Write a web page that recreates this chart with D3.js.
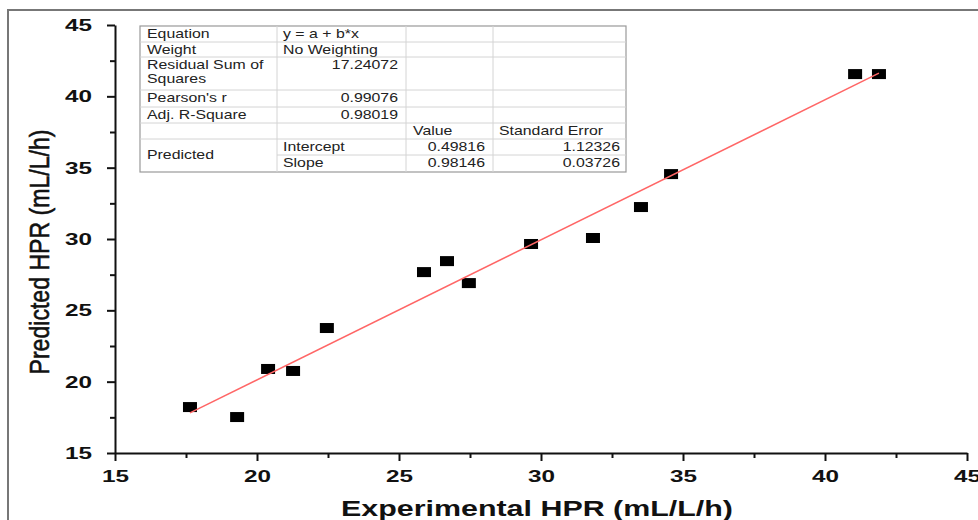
<!DOCTYPE html>
<html>
<head>
<meta charset="utf-8">
<script src="https://cdn.jsdelivr.net/npm/d3@7"></script>
<style>
  body { margin: 0; background: #fff; }
  svg { display: block; }
  .tick text { font-family: Arial, "Liberation Sans", sans-serif; font-weight: bold; font-size: 17px; fill: #111; }
  .axis path, .axis line { stroke: #111; stroke-width: 2px; }
  .tbl text { font-family: Arial, "Liberation Sans", sans-serif; font-size: 13px; fill: #222; }
</style>
</head>
<body>
<svg id="chart"></svg>
<script>
// measured data (experimental vs predicted HPR)
var experimental = [17.64, 19.30, 20.39, 21.27, 22.46, 25.88, 26.69, 27.46, 29.65, 31.83, 33.52, 34.58, 41.06, 41.90];
var predicted    = [18.22, 17.52, 20.89, 20.75, 23.76, 27.68, 28.45, 26.91, 29.65, 30.07, 32.24, 34.55, 41.56, 41.56];

var majorTicks = [15, 20, 25, 30, 35, 40, 45];
var minorTicks = [17.5, 22.5, 27.5, 32.5, 37.5, 42.5];

// linear fit results
var fitIntercept = 0.49816;
var fitSlope = 0.98146;

// fit report table (label, value) rows
var tableRows = [
  ["Equation", "y = a + b*x"],
  ["Weight", "No Weighting"],
  ["Residual Sum of|Squares", "17.24072"],
  ["Pearson's r", "0.99076"],
  ["Adj. R-Square", "0.98019"]
];
var paramHeader = ["Value", "Standard Error"];
var paramNames = ["Intercept", "Slope"];
var paramValues = ["0.49816", "0.98146"];
var paramErrors = ["1.12326", "0.03726"];

var screen = {width: 978, height: 520};
var svg = d3.select("#chart").attr("width", screen.width).attr("height", screen.height);

// outer frame
svg.append("rect")
  .attr("x", 8).attr("y", 10)
  .attr("width", 1000).attr("height", 600)
  .attr("fill", "none").attr("stroke", "#777").attr("stroke-width", 2);

var xScale = d3.scaleLinear().domain([15, 45]).range([115, 967]);
var yScale = d3.scaleLinear().domain([15, 45]).range([453, 25]);

// the original picture is stretched sideways, so widen the labels
var widen = function(g){
  g.selectAll(".tick text")
    .attr("textLength", 27)
    .attr("lengthAdjust", "spacingAndGlyphs");
};

// axes
var axes = svg.append("g");
axes.append("g").attr("class", "axis")
  .attr("transform", "translate(0,453)")
  .call(d3.axisBottom(xScale).tickValues(majorTicks).tickSize(8).tickSizeOuter(0).tickPadding(6))
  .call(function(g){ g.selectAll(".tick text").attr("dy", "0.9em"); })
  .call(widen);
axes.append("g").attr("class", "axis")
  .attr("transform", "translate(0,453)")
  .call(d3.axisBottom(xScale).tickValues(minorTicks).tickSize(5).tickSizeOuter(0).tickFormat(""))
  .select(".domain").remove();
axes.append("g").attr("class", "axis")
  .attr("transform", "translate(115,0)")
  .call(d3.axisLeft(yScale).tickValues(majorTicks).tickSize(8).tickSizeOuter(0).tickPadding(15))
  .call(widen);
axes.append("g").attr("class", "axis")
  .attr("transform", "translate(115,0)")
  .call(d3.axisLeft(yScale).tickValues(minorTicks).tickSize(5).tickSizeOuter(0).tickFormat(""))
  .select(".domain").remove();

// axis titles
svg.append("text")
  .text("Experimental HPR (mL/L/h)")
  .attr("x", 537).attr("y", 516)
  .attr("text-anchor", "middle")
  .attr("textLength", 392)
  .attr("lengthAdjust", "spacingAndGlyphs")
  .style("font-family", "Arial, 'Liberation Sans', sans-serif")
  .style("font-weight", "bold")
  .style("font-size", "22px")
  .style("fill", "#111");
svg.append("g")
  .attr("transform", "translate(49,252)")
  .append("text")
  .text("Predicted HPR (mL/L/h)")
  .attr("text-anchor", "middle")
  .attr("transform", "rotate(270)")
  .attr("textLength", 245)
  .attr("lengthAdjust", "spacingAndGlyphs")
  .style("font-family", "Arial, 'Liberation Sans', sans-serif")
  .style("font-size", "27px")
  .style("fill", "#111")
  .style("stroke", "#111")
  .style("stroke-width", "0.6px");

// points
svg.append("g").selectAll("rect")
  .data(experimental)
  .enter()
  .append("rect")
  .attr("x", function(d){ return xScale(d) - 7; })
  .attr("y", function(d, i){ return yScale(predicted[i]) - 5; })
  .attr("width", 14).attr("height", 10)
  .attr("fill", "#000");

// fit line
var xMin = d3.min(experimental), xMax = d3.max(experimental);
svg.append("line")
  .attr("x1", xScale(xMin)).attr("y1", yScale(fitIntercept + fitSlope * xMin))
  .attr("x2", xScale(xMax)).attr("y2", yScale(fitIntercept + fitSlope * xMax))
  .attr("stroke", "#f66").attr("stroke-width", 1.5);

// fit report table
var tbl = svg.append("g").classed("tbl", true);
var cols = [140, 277, 406, 493, 626];
var rows = [26, 42, 57, 90, 107, 123, 139, 155, 172];
var cell = function(t, x, y, anchor){
  tbl.append("text").text(t)
    .attr("transform", "translate(" + x + "," + y + ") scale(1.22,1)")
    .attr("text-anchor", anchor || "start");
};
tbl.append("rect")
  .attr("x", cols[0]).attr("y", rows[0])
  .attr("width", cols[4] - cols[0]).attr("height", rows[8] - rows[0])
  .attr("fill", "#fff").attr("stroke", "#999").attr("stroke-width", 1.2);
rows.slice(1, 8).forEach(function(r, i){
  tbl.append("line")
    .attr("x1", i == 6 ? cols[1] : cols[0]).attr("x2", cols[4])
    .attr("y1", r).attr("y2", r)
    .attr("stroke", "#d4d4d4");
});
cols.slice(1, 4).forEach(function(c){
  tbl.append("line")
    .attr("x1", c).attr("x2", c)
    .attr("y1", rows[0]).attr("y2", rows[8])
    .attr("stroke", "#d4d4d4");
});
tableRows.forEach(function(row, i){
  row[0].split("|").forEach(function(p, j){
    cell(p, cols[0] + 7, rows[i] + 12 + j * 14);
  });
  var numeric = !isNaN(+row[1]);
  cell(row[1], numeric ? cols[2] - 8 : cols[1] + 6, rows[i] + 12, numeric ? "end" : "start");
});
cell(paramHeader[0], cols[2] + 7, rows[5] + 12);
cell(paramHeader[1], cols[3] + 6, rows[5] + 12);
cell("Predicted", cols[0] + 7, rows[7] + 4);
paramNames.forEach(function(n, i){
  cell(n, cols[1] + 6, rows[6 + i] + 12);
  cell(paramValues[i], cols[3] - 8, rows[6 + i] + 12, "end");
  cell(paramErrors[i], cols[4] - 6, rows[6 + i] + 12, "end");
});
</script>
</body>
</html>
